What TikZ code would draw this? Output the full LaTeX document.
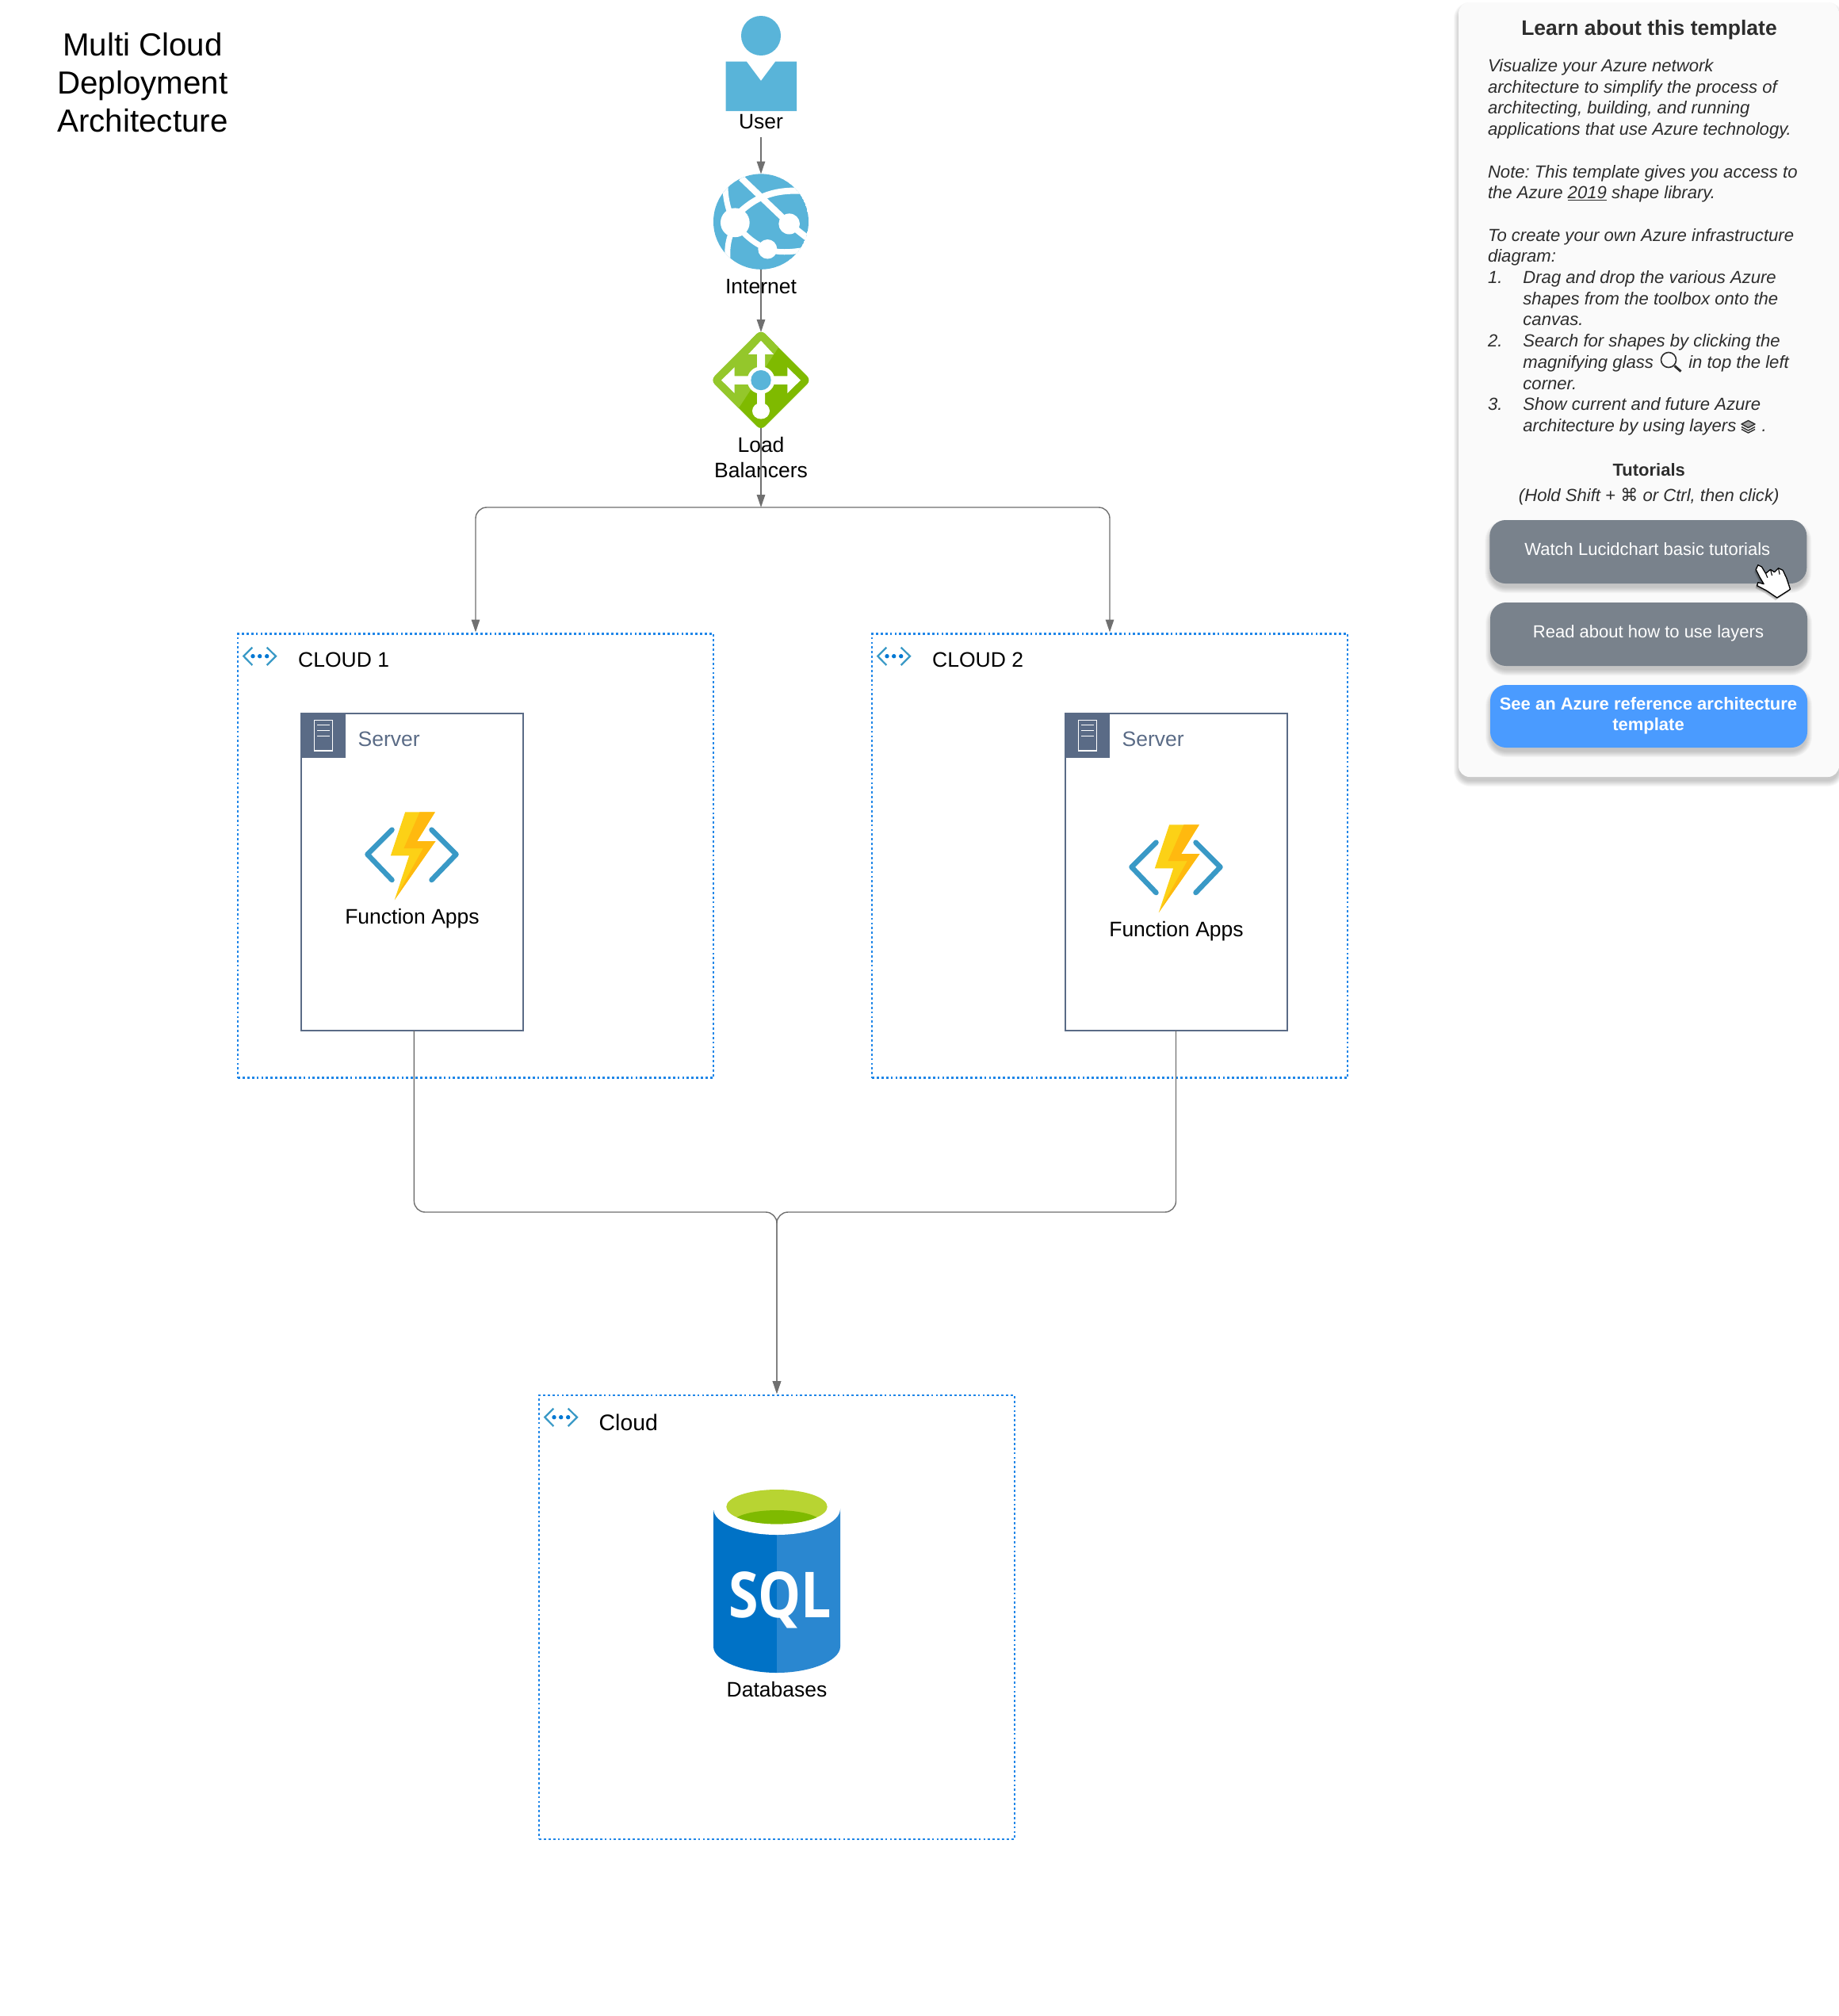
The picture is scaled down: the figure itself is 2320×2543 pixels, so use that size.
\documentclass[tikz,border=0pt]{standalone}
\usepackage{fontspec}
\setmainfont{Liberation Sans}
\newfontfamily\dejavu{DejaVu Sans}
\newfontfamily\sqlfont{Open Sans}
\usetikzlibrary{arrows.meta,calc}
\definecolor{connc}{HTML}{707070}
\definecolor{dotc}{HTML}{1F86E8}
\definecolor{azblue}{HTML}{59B4D9}
\definecolor{chev}{HTML}{3999C6}
\definecolor{dotd}{HTML}{0078D4}
\definecolor{slate}{HTML}{5A6B86}
\definecolor{lbdark}{HTML}{7FBA00}
\definecolor{lblight}{HTML}{94C72B}
\definecolor{boltl}{HTML}{FCD116}
\definecolor{boltd}{HTML}{FFB90F}
\definecolor{sqll}{HTML}{0072C6}
\definecolor{sqlr}{HTML}{2A87D0}
\definecolor{rimg}{HTML}{B8D432}
\definecolor{panelc}{HTML}{FAFAFA}
\definecolor{paneltxt}{HTML}{2D2D2D}
\definecolor{btngray}{HTML}{79828C}
\definecolor{btnblue}{HTML}{4A9BFF}
\tikzset{
  lbl/.style={font=\fontsize{26.5}{32}\selectfont,inner sep=0pt,anchor=base,text=black},
  lblleft/.style={lbl,anchor=base west},
  conn/.style={draw=connc,line width=1.4pt,-{Triangle[length=16pt,width=10.5pt,fill=connc]}},
  cloudbox/.style={draw=dotc,line width=2.6pt,dash pattern=on 2.8pt off 3.1pt,minimum width=600pt,minimum height=560pt,inner sep=0pt,outer sep=0pt},
  serverbox/.style={draw=slate,line width=2.4pt,fill=white,minimum width=280pt,minimum height=400pt,inner sep=0pt,outer sep=0pt},
  btn/.style={minimum width=400pt,minimum height=80pt,rounded corners=20pt,inner sep=0pt,outer sep=0pt},
  btntxt/.style={font=\fontsize{22}{26}\selectfont,text=white,inner sep=0pt,anchor=base},
  paneltext/.style={text=paneltxt,inner sep=0pt},
}
\newcommand\softshadow[6]{%
  \foreach \e in {6,5,...,-1}{%
    \pgfmathsetmacro\rr{max(#5+\e,1)}%
    \fill[black,opacity=.028,rounded corners=\rr pt] ({#1-\e},{#2+#6-\e}) rectangle ({#3+\e},{#4+#6+\e});
  }%
}
\newcommand\cloudicon[2]{%
  \begin{scope}[shift={(#1,#2)}]
    \draw[chev,line width=2.2pt] (18.3,16.7) -- (7.3,27.7) -- (18.3,39);
    \draw[chev,line width=2.2pt] (36.7,16.7) -- (48,27.7) -- (36.7,39);
    \fill[dotd] (19,27.7) circle[radius=2.7] (27.7,27.7) circle[radius=2.7] (36.7,27.7) circle[radius=2.7];
  \end{scope}}
\newcommand\serverdeco[1]{%
  \begin{scope}[shift={(#1,900)}]
    \fill[slate] (-1,-1) rectangle (56,56);
    \draw[white,line width=1.5pt] (16.7,8.7) rectangle (39.3,47);
    \draw[white,line width=1.2pt] (20,14.3) -- (36,14.3) (20,21.3) -- (36,21.3) (20,28.3) -- (36,28.3);
  \end{scope}}
\newcommand\funcicon[2]{%
  \begin{scope}[shift={(#1,#2)},x=.33333pt,y=-.33333pt]
    \draw[chev,line width=6.5pt,line cap=round,line join=round] (615,770) -- (522,863) -- (615,960);
    \draw[chev,line width=6.5pt,line cap=round,line join=round] (765,770) -- (858,863) -- (765,960);
    \fill[boltl] (665,703) -- (778,703) -- (710,813) -- (780,813) -- (625,1035) -- (680,868) -- (610,868) -- cycle;
    \fill[boltd] (720,703) -- (778,703) -- (710,813) -- (780,813) -- (625,1035) -- (733,840) -- (660,840) -- cycle;
  \end{scope}}
\begin{document}
\begin{tikzpicture}[x=1pt,y=-1pt]
\useasboundingbox (0,0) rectangle (2320,2543);
\fill[white] (0,0) rectangle (2320,2543);

% title
\node[lbl,font=\fontsize{40.3}{48}\selectfont] (t1) at (180,70) {Multi Cloud};
\node[lbl,font=\fontsize{40.3}{48}\selectfont] (t2) at (180,118.5) {Deployment};
\node[lbl,font=\fontsize{40.3}{48}\selectfont] (t3) at (180,166.7) {Architecture};

% panel
\softshadow{1840}{3}{2320}{980}{14}{6}
\node[fill=panelc,minimum width=480pt,minimum height=977pt,rounded corners=14pt,inner sep=0pt,outer sep=0pt] (panel) at (2080,491.5) {};
\node[font=\fontsize{26.5}{32}\bfseries\selectfont,text=paneltxt,inner sep=0pt,anchor=base] (ptitle) at (2080.5,44) {Learn about this template};
\node[paneltext,align=left,anchor=north west,font=\frenchspacing\fontsize{22.1}{26.7}\itshape\selectfont] (pbody) at (1876.8,74.3) {Visualize your Azure network\\
architecture to simplify the process of\\
architecting, building, and running\\
applications that use Azure technology.\\
\mbox{}\\
Note: This template gives you access to\\
the Azure \underline{2019} shape library.\\
\mbox{}\\
To create your own Azure infrastructure\\
diagram:\\
\makebox[44.4pt][l]{1.}Drag and drop the various Azure\\
\hspace*{44.4pt}shapes from the toolbox onto the\\
\hspace*{44.4pt}canvas.\\
\makebox[44.4pt][l]{2.}Search for shapes by clicking the\\
\hspace*{44.4pt}magnifying glass \hspace*{32pt} in top the left\\
\hspace*{44.4pt}corner.\\
\makebox[44.4pt][l]{3.}Show current and future Azure\\
\hspace*{44.4pt}architecture by using layers \hspace*{20pt} .};
% magnifier
\draw[paneltxt,line width=1.6pt] (2105,454) circle[radius=9.5];
\draw[paneltxt,line width=3pt] (2112.5,461.5) -- (2120.5,468.5);
% layers
\draw[paneltxt,line width=1.4pt,fill=paneltxt!45!white,line join=round] (2205.5,530.5) -- (2214,535) -- (2205.5,539.5) -- (2197,535) -- cycle;
\draw[paneltxt,line width=1.4pt,line join=round] (2197,538.5) -- (2205.5,543) -- (2214,538.5);
\draw[paneltxt,line width=1.4pt,line join=round] (2197,541.5) -- (2205.5,546) -- (2214,541.5);

\node[font=\fontsize{22}{26}\bfseries\selectfont,text=paneltxt,inner sep=0pt,anchor=base] (tut) at (2080.2,600) {Tutorials};
\node[font=\frenchspacing\fontsize{22.1}{26}\itshape\selectfont,text=paneltxt,inner sep=0pt,anchor=base] (tuthint) at (2080.2,632) {(Hold Shift + {\dejavu\upshape ⌘} or Ctrl, then click)};

% buttons
\softshadow{1879.3}{656}{2279.3}{736}{20}{6}
\node[btn,fill=btngray] (b1) at (2079.3,696) {};
\node[btntxt] (b1t) at (2078.3,700.7) {Watch Lucidchart basic tutorials};
\softshadow{1880}{760}{2280}{840}{20}{6}
\node[btn,fill=btngray] (b2) at (2080,800) {};
\node[btntxt] (b2t) at (2079.5,804) {Read about how to use layers};
\softshadow{1880}{864}{2280}{943}{20}{6}
\node[btn,fill=btnblue,minimum height=79pt] (b3) at (2080,903.5) {};
\node[btntxt,font=\fontsize{22}{26}\bfseries\selectfont] (b3a) at (2079.5,895) {See an Azure reference architecture};
\node[btntxt,font=\fontsize{22}{26}\bfseries\selectfont] (b3b) at (2079.5,921) {template};

% hand cursor
\begin{scope}[shift={(2178.5,690)},x=.33333pt,y=-.33333pt]
  \foreach \o in {4,7,10}{%
    \fill[black,opacity=.12,shift={(-\o*.6,\o)}] (110,85) -- (118,68) -- (132,75) -- (147,100) -- (165,85) -- (180,95) -- (195,80) -- (212,88) -- (226,118) -- (240,160) -- (190,192) -- (150,165) -- (114,146) -- (118,134) -- (140,140) -- (125,115) -- cycle;}
  \draw[black,fill=white,line width=1.3pt,line join=round] (110,85) -- (118,68) -- (132,75) -- (147,100) -- (165,85) -- (180,95) -- (195,80) -- (212,88) -- (226,118) -- (240,160) -- (190,192) -- (150,165) -- (114,146) -- (118,134) -- (140,140) -- (125,115) -- cycle;
  \draw[black,line width=1.1pt] (147,100) -- (154,116) (165,85) -- (171,108) (195,80) -- (200,104);
\end{scope}

% clouds
\node[cloudbox] (cloud1) at (600,1079.5) {};
\node[cloudbox] (cloud2) at (1400,1079.5) {};
\node[cloudbox] (cloud3) at (980,2040) {};
\cloudicon{300}{800}
\cloudicon{1100}{800}
\cloudicon{680}{1760}
\node[lblleft] (c1t) at (376,841.5) {CLOUD 1};
\node[lblleft] (c2t) at (1176,841.5) {CLOUD 2};
\node[lblleft,font=\fontsize{28.4}{34}\selectfont] (c3t) at (755.5,1804) {Cloud};

% servers
\node[serverbox] (srv1) at (520,1100) {};
\node[serverbox] (srv2) at (1484,1100) {};
\serverdeco{380}
\serverdeco{1344}
\node[lblleft,text=slate] (s1t) at (451.5,941.5) {Server};
\node[lblleft,text=slate] (s2t) at (1415.5,941.5) {Server};
\funcicon{289.5}{790}
\funcicon{1253.5}{806}
\node[lbl] (f1t) at (520,1165.5) {Function Apps};
\node[lbl] (f2t) at (1484,1181.5) {Function Apps};

% user
\fill[azblue] (960,45) circle[radius=25];
\fill[azblue] (915.7,77.5) -- (941.7,77.5) -- (960,102) -- (978.3,77.5) -- (1005,77.5) -- (1005,140) -- (915.7,140) -- cycle;
\node[lbl] (usert) at (960,162) {User};
\coordinate (userout) at (960,173);

% internet
\node[circle,minimum size=120pt,inner sep=0pt,outer sep=0pt] (internet) at (960,279.5) {};
\begin{scope}[xshift=850pt,x=.33333pt,y=-.40816pt]
  \begin{scope}
    \clip (330,685) ellipse[x radius=180,y radius=147.5];
    \fill[azblue] (330,685) ellipse[x radius=180,y radius=147.5];
    \draw[white,line width=8pt] (220,680) .. controls (300,610) and (370,585) .. (490,590);
    \draw[white,line width=8pt] (255,550) -- (437,692) -- (520,745);
    \draw[white,line width=7pt] (195,575) .. controls (195,620) and (210,660) .. (230,688);
    \draw[white,line width=7pt] (232,700) .. controls (205,730) and (200,770) .. (205,810);
    \draw[white,line width=7pt] (232,690) .. controls (270,730) and (310,755) .. (355,770) .. controls (390,782) and (440,780) .. (500,772);
    \fill[white] (232,688) ellipse[x radius=55,y radius=45];
    \fill[white] (437,692) ellipse[x radius=40,y radius=32];
    \fill[white] (355,770) ellipse[x radius=36,y radius=30];
  \end{scope}
\end{scope}
\node[lbl] (internett) at (960,370.5) {Internet};

% load balancer
\node[minimum width=120pt,minimum height=121pt,inner sep=0pt,outer sep=0pt] (lb) at (960,479.5) {};
\begin{scope}[xshift=850pt,x=.33333pt,y=-.40816pt]
  \begin{scope}
    \clip[rounded corners=7pt] (330,1019) -- (520,1175) -- (330,1330) -- (140,1175) -- cycle;
    \fill[lbdark] (100,990) rectangle (560,1350);
    \fill[lblight] (460,994) -- (180,1343) -- (100,1343) -- (100,994) -- cycle;
  \end{scope}
  \fill[white] (180,1175) -- (230,1135) -- (230,1162) -- (430,1162) -- (430,1135) -- (480,1175) -- (430,1215) -- (430,1188) -- (230,1188) -- (230,1215) -- cycle;
  \fill[white] (330,1053) -- (378,1095) -- (345,1095) -- (345,1270) -- (315,1270) -- (315,1095) -- (282,1095) -- cycle;
  \fill[white] (330,1270) ellipse[x radius=33,y radius=25];
  \fill[white] (330,1175) ellipse[x radius=52,y radius=42];
  \fill[azblue] (330,1175) ellipse[x radius=38,y radius=31];
\end{scope}
\node[lbl] (lbt1) at (960,570.5) {Load};
\node[lbl] (lbt2) at (960,602.5) {Balancers};

% SQL
\fill[sqll] (900,1903) -- (900,2077) .. controls (900,2095) and (938,2110) .. (980,2110) -- (980,1903) -- cycle;
\fill[sqlr] (1060,1903) -- (1060,2077) .. controls (1060,2095) and (1022,2110) .. (980,2110) -- (980,1903) -- cycle;
\fill[white] (980,1903) ellipse[x radius=80,y radius=33];
\fill[rimg] (980,1900.7) ellipse[x radius=63.7,y radius=21.7];
\begin{scope}
  \clip (980,1900.7) ellipse[x radius=63.7,y radius=21.7];
  \fill[lbdark] (980,1921) ellipse[x radius=56,y radius=16];
\end{scope}
\node[inner sep=0pt,anchor=base,text=white,font=\fontsize{80}{80}\sqlfont\bfseries\selectfont,xscale=.85] (sqlt) at (984,2040) {SQL};
\node[lbl] (dbt) at (980,2140.5) {Databases};

% connectors
\coordinate (split) at (960,640);
\coordinate (s1out) at (522.4,1300);
\coordinate (s2out) at (1483.5,1300);
\draw[conn] (userout) -- (internet.north);
\draw[conn] (internet.south) -- (lb.north);
\draw[conn] (lb.south) -- (split);
\draw[conn,rounded corners=14pt,shorten >=2pt] (split) -| (cloud1.north);
\draw[conn,rounded corners=14pt,shorten >=2pt] (split) -| (cloud2.north);
\draw[conn,rounded corners=14pt,shorten >=2pt] (s1out) |- (980,1529) -- (cloud3.north);
\draw[conn,rounded corners=14pt,shorten >=2pt] (s2out) |- (980,1529) -- (cloud3.north);
\end{tikzpicture}
\end{document}
